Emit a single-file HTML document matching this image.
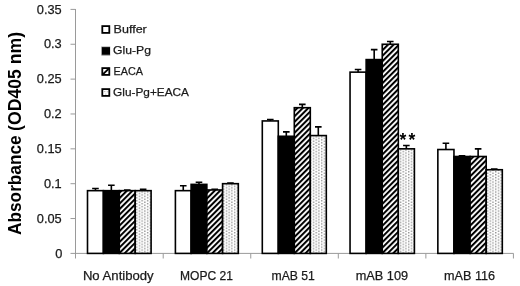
<!DOCTYPE html>
<html><head><meta charset="utf-8"><style>
html,body{margin:0;padding:0;background:#fff;}
body{width:520px;height:286px;overflow:hidden;}
svg{display:block;will-change:transform;}
text{font-family:"Liberation Sans",sans-serif;fill:#1a1a1a;}
.tk{font-size:12.8px;stroke:#1a1a1a;stroke-width:0.25px;}
.cl{font-size:12.8px;stroke:#1a1a1a;stroke-width:0.25px;}
.lg{font-size:11.5px;stroke:#1a1a1a;stroke-width:0.25px;}
.ti{font-size:17.6px;font-weight:bold;fill:#000;}
.ast{font-size:17.5px;font-weight:bold;fill:#000;}
</style></head><body>
<svg width="520" height="286" viewBox="0 0 520 286">
<defs>
<pattern id="hatch" patternUnits="userSpaceOnUse" x="-1.11" width="3.875" height="3.875" patternTransform="rotate(45)">
<rect width="3.875" height="3.875" fill="#fff"/><rect width="2.03" height="3.875" fill="#000"/>
</pattern>
<pattern id="dots" patternUnits="userSpaceOnUse" width="5.44" height="2.9">
<rect width="5.44" height="2.9" fill="#fff"/><rect width="1.4" height="1.4" fill="#959595"/><rect x="2.72" y="1.45" width="1.4" height="1.4" fill="#959595"/>
</pattern>
</defs>
<line x1="75.5" y1="9" x2="75.5" y2="253.90" stroke="#9a9a9a" stroke-width="1"/>
<line x1="70.5" y1="253.40" x2="75.5" y2="253.40" stroke="#9a9a9a" stroke-width="1"/>
<text x="62.30" y="257.50" text-anchor="end" class="tk">0</text>
<line x1="70.5" y1="218.54" x2="75.5" y2="218.54" stroke="#9a9a9a" stroke-width="1"/>
<text x="61.70" y="222.64" text-anchor="end" class="tk">0.05</text>
<line x1="70.5" y1="183.69" x2="75.5" y2="183.69" stroke="#9a9a9a" stroke-width="1"/>
<text x="61.70" y="187.79" text-anchor="end" class="tk">0.1</text>
<line x1="70.5" y1="148.83" x2="75.5" y2="148.83" stroke="#9a9a9a" stroke-width="1"/>
<text x="61.70" y="152.93" text-anchor="end" class="tk">0.15</text>
<line x1="70.5" y1="113.97" x2="75.5" y2="113.97" stroke="#9a9a9a" stroke-width="1"/>
<text x="61.70" y="118.07" text-anchor="end" class="tk">0.2</text>
<line x1="70.5" y1="79.11" x2="75.5" y2="79.11" stroke="#9a9a9a" stroke-width="1"/>
<text x="61.70" y="83.21" text-anchor="end" class="tk">0.25</text>
<line x1="70.5" y1="44.26" x2="75.5" y2="44.26" stroke="#9a9a9a" stroke-width="1"/>
<text x="61.70" y="48.36" text-anchor="end" class="tk">0.3</text>
<line x1="70.5" y1="9.40" x2="75.5" y2="9.40" stroke="#9a9a9a" stroke-width="1"/>
<text x="61.70" y="13.50" text-anchor="end" class="tk">0.35</text>
<line x1="75.0" y1="253.40" x2="513.5" y2="253.40" stroke="#9a9a9a" stroke-width="1"/>
<line x1="75.50" y1="253.40" x2="75.50" y2="258.5" stroke="#9a9a9a" stroke-width="1"/>
<line x1="163.21" y1="253.40" x2="163.21" y2="258.5" stroke="#9a9a9a" stroke-width="1"/>
<line x1="250.76" y1="253.40" x2="250.76" y2="258.5" stroke="#9a9a9a" stroke-width="1"/>
<line x1="338.31" y1="253.40" x2="338.31" y2="258.5" stroke="#9a9a9a" stroke-width="1"/>
<line x1="425.86" y1="253.40" x2="425.86" y2="258.5" stroke="#9a9a9a" stroke-width="1"/>
<line x1="513.41" y1="253.40" x2="513.41" y2="258.5" stroke="#9a9a9a" stroke-width="1"/>
<rect x="87.50" y="190.66" width="15.90" height="62.74" fill="#fff" stroke="#000" stroke-width="1.6"/>
<rect x="103.40" y="190.66" width="15.90" height="62.74" fill="#000" stroke="#000" stroke-width="1.6"/>
<rect x="119.30" y="190.66" width="15.90" height="62.74" fill="url(#hatch)" stroke="#000" stroke-width="1.6"/>
<rect x="135.20" y="190.66" width="15.90" height="62.74" fill="url(#dots)" stroke="#000" stroke-width="1.6"/>
<path d="M95.45 190.66V188.57M92.15 188.57H98.75" stroke="#000" stroke-width="1.6" fill="none"/>
<path d="M111.35 190.66V185.22M108.05 185.22H114.65" stroke="#000" stroke-width="1.6" fill="none"/>
<path d="M127.25 190.66V189.96M123.95 189.96H130.55" stroke="#000" stroke-width="1.6" fill="none"/>
<path d="M143.15 190.66V189.26M139.85 189.26H146.45" stroke="#000" stroke-width="1.6" fill="none"/>
<rect x="175.40" y="190.66" width="15.73" height="62.74" fill="#fff" stroke="#000" stroke-width="1.6"/>
<rect x="191.12" y="184.38" width="15.73" height="69.02" fill="#000" stroke="#000" stroke-width="1.6"/>
<rect x="206.85" y="189.96" width="15.73" height="63.44" fill="url(#hatch)" stroke="#000" stroke-width="1.6"/>
<rect x="222.58" y="183.69" width="15.73" height="69.71" fill="url(#dots)" stroke="#000" stroke-width="1.6"/>
<path d="M183.26 190.66V185.78M179.96 185.78H186.56" stroke="#000" stroke-width="1.6" fill="none"/>
<path d="M198.99 184.38V182.29M195.69 182.29H202.29" stroke="#000" stroke-width="1.6" fill="none"/>
<path d="M214.71 189.96V189.26M211.41 189.26H218.01" stroke="#000" stroke-width="1.6" fill="none"/>
<path d="M230.44 183.69V182.99M227.14 182.99H233.74" stroke="#000" stroke-width="1.6" fill="none"/>
<rect x="262.30" y="120.94" width="16.00" height="132.46" fill="#fff" stroke="#000" stroke-width="1.6"/>
<rect x="278.30" y="136.28" width="16.00" height="117.12" fill="#000" stroke="#000" stroke-width="1.6"/>
<rect x="294.30" y="107.70" width="16.00" height="145.70" fill="url(#hatch)" stroke="#000" stroke-width="1.6"/>
<rect x="310.30" y="135.58" width="16.00" height="117.82" fill="url(#dots)" stroke="#000" stroke-width="1.6"/>
<path d="M270.30 120.94V119.55M267.00 119.55H273.60" stroke="#000" stroke-width="1.6" fill="none"/>
<path d="M286.30 136.28V131.89M283.00 131.89H289.60" stroke="#000" stroke-width="1.6" fill="none"/>
<path d="M302.30 107.70V104.42M299.00 104.42H305.60" stroke="#000" stroke-width="1.6" fill="none"/>
<path d="M318.30 135.58V126.87M315.00 126.87H321.60" stroke="#000" stroke-width="1.6" fill="none"/>
<rect x="350.05" y="72.14" width="16.09" height="181.26" fill="#fff" stroke="#000" stroke-width="1.6"/>
<rect x="366.14" y="59.59" width="16.09" height="193.81" fill="#000" stroke="#000" stroke-width="1.6"/>
<rect x="382.23" y="44.26" width="16.09" height="209.14" fill="url(#hatch)" stroke="#000" stroke-width="1.6"/>
<rect x="398.31" y="148.83" width="16.09" height="104.57" fill="url(#dots)" stroke="#000" stroke-width="1.6"/>
<path d="M358.09 72.14V69.49M354.79 69.49H361.39" stroke="#000" stroke-width="1.6" fill="none"/>
<path d="M374.18 59.59V49.63M370.88 49.63H377.48" stroke="#000" stroke-width="1.6" fill="none"/>
<path d="M390.27 44.26V41.47M386.97 41.47H393.57" stroke="#000" stroke-width="1.6" fill="none"/>
<path d="M406.36 148.83V145.55M403.06 145.55H409.66" stroke="#000" stroke-width="1.6" fill="none"/>
<rect x="437.85" y="149.53" width="16.11" height="103.87" fill="#fff" stroke="#000" stroke-width="1.6"/>
<rect x="453.96" y="156.50" width="16.11" height="96.90" fill="#000" stroke="#000" stroke-width="1.6"/>
<rect x="470.08" y="156.50" width="16.11" height="96.90" fill="url(#hatch)" stroke="#000" stroke-width="1.6"/>
<rect x="486.19" y="169.74" width="16.11" height="83.66" fill="url(#dots)" stroke="#000" stroke-width="1.6"/>
<path d="M445.91 149.53V143.25M442.61 143.25H449.21" stroke="#000" stroke-width="1.6" fill="none"/>
<path d="M462.02 156.50V155.80M458.72 155.80H465.32" stroke="#000" stroke-width="1.6" fill="none"/>
<path d="M478.13 156.50V148.83M474.83 148.83H481.43" stroke="#000" stroke-width="1.6" fill="none"/>
<path d="M494.24 169.74V169.05M490.94 169.05H497.54" stroke="#000" stroke-width="1.6" fill="none"/>
<text x="82.9" y="280.2" class="cl" textLength="70.8" lengthAdjust="spacingAndGlyphs">No Antibody</text>
<text x="180.0" y="280.2" class="cl" textLength="52.9" lengthAdjust="spacingAndGlyphs">MOPC 21</text>
<text x="271.5" y="280.2" class="cl" textLength="43.4" lengthAdjust="spacingAndGlyphs">mAB 51</text>
<text x="355.7" y="280.2" class="cl" textLength="52.4" lengthAdjust="spacingAndGlyphs">mAB 109</text>
<text x="444.0" y="280.2" class="cl" textLength="51.1" lengthAdjust="spacingAndGlyphs">mAB 116</text>
<text x="403.0" y="146.2" class="ast" text-anchor="middle">*</text>
<text x="411.9" y="146.2" class="ast" text-anchor="middle">*</text>
<rect x="102.3" y="26.1" width="7.0" height="6.8" fill="#fff" stroke="#000" stroke-width="1.8"/>
<rect x="102.3" y="47.6" width="7.0" height="6.8" fill="#fff" stroke="#000" stroke-width="1.8"/>
<rect x="101.5" y="46.70" width="9" height="8.2" fill="#fff"/><rect x="101.9" y="47.10" width="8.1" height="7.7" fill="#000"/>
<rect x="102.3" y="68.1" width="7.0" height="6.8" fill="#fff" stroke="#000" stroke-width="1.8"/>
<path d="M102.30 74.90L109.30 68.10" stroke="#000" stroke-width="2.0"/>
<rect x="102.3" y="89.1" width="7.0" height="6.8" fill="#fff" stroke="#000" stroke-width="1.8"/>
<rect x="104.30" y="91.10" width="1" height="1" fill="#999"/><rect x="106.80" y="91.30" width="1" height="1" fill="#aaa"/><rect x="105.30" y="93.60" width="1" height="1" fill="#aaa"/>
<text x="113.60000000000001" y="33.25" class="lg" textLength="33.2" lengthAdjust="spacingAndGlyphs">Buffer</text>
<text x="113.10000000000001" y="54.35" class="lg" textLength="37.9" lengthAdjust="spacingAndGlyphs">Glu-Pg</text>
<text x="113.60000000000001" y="75.35" class="lg" textLength="29.5" lengthAdjust="spacingAndGlyphs">EACA</text>
<text x="113.10000000000001" y="96.25" class="lg" textLength="75.9" lengthAdjust="spacingAndGlyphs">Glu-Pg+EACA</text>
<text transform="translate(20.8,234.9) rotate(-90)" class="ti" textLength="99.5" lengthAdjust="spacingAndGlyphs">Absorbance</text>
<text transform="translate(20.8,130.9) rotate(-90)" class="ti" textLength="99.0" lengthAdjust="spacingAndGlyphs">(OD405 nm)</text>
</svg>
</body></html>
